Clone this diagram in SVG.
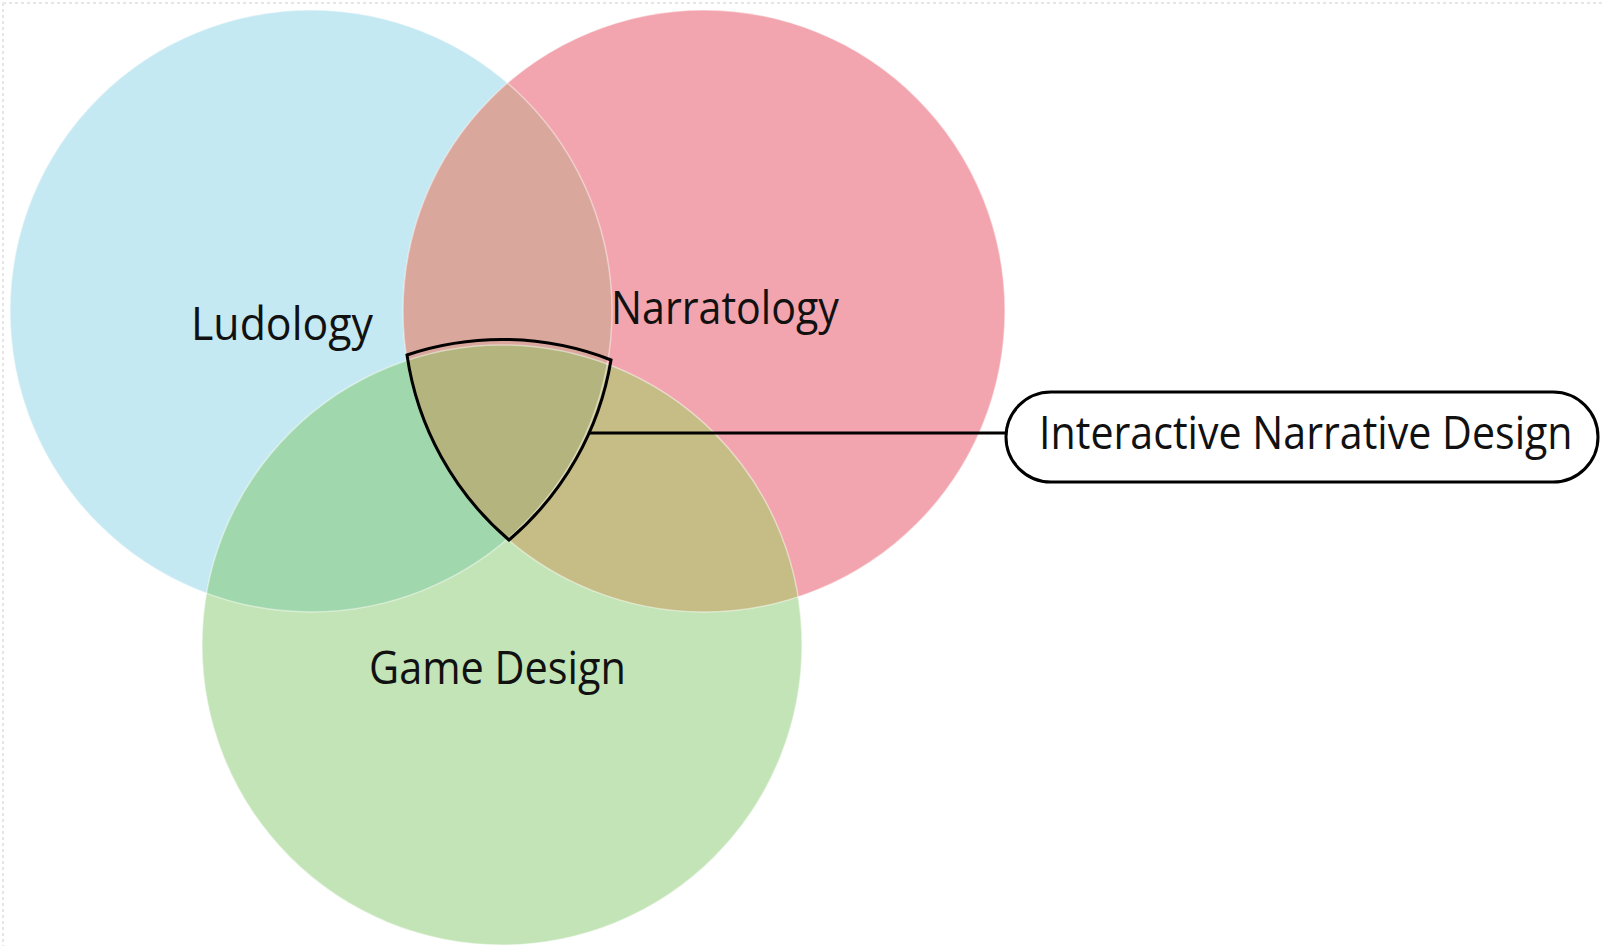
<svg xmlns="http://www.w3.org/2000/svg" width="1604" height="946" viewBox="0 0 1604 946">
<style>
.lbl{font-family:"Open Sans","Liberation Sans",sans-serif;font-size:45px;fill:#111;}
.edge{fill:none;stroke:#ffffff;stroke-opacity:0.45;stroke-width:1.5;}
</style>
<defs>
<clipPath id="cB"><circle cx="311" cy="311" r="301"/></clipPath>
<clipPath id="cP"><circle cx="704" cy="311" r="301"/></clipPath>
</defs>
<rect width="1604" height="946" fill="#ffffff"/>
<path d="M3 3H1604M3 3V946" fill="none" stroke="#e6e6e6" stroke-width="2" stroke-dasharray="3 3"/>
<g id="ludology">
<circle cx="311" cy="311" r="301" fill="#c5e9f2"/>
</g>
<g id="narratology">
<circle cx="704" cy="311" r="301" fill="#f2a5ae"/>
</g>
<g id="game-design">
<circle cx="502" cy="645" r="300" fill="#c3e4b6"/>
</g>
<g id="overlaps">
<circle cx="704" cy="311" r="301" fill="#d9a79c" clip-path="url(#cB)"/>
<circle cx="502" cy="645" r="300" fill="#a0d7ad" clip-path="url(#cB)"/>
<circle cx="502" cy="645" r="300" fill="#c6bc85" clip-path="url(#cP)"/>
<g clip-path="url(#cB)"><circle cx="502" cy="645" r="300" fill="#b4b47e" clip-path="url(#cP)"/></g>
<circle class="edge" cx="311" cy="311" r="301"/>
<circle class="edge" cx="704" cy="311" r="301"/>
<circle class="edge" cx="502" cy="645" r="300"/>
</g>
<g id="labels">
<text class="lbl" x="191" y="340" textLength="182" lengthAdjust="spacingAndGlyphs">Ludology</text>
<text class="lbl" x="611" y="324" textLength="228" lengthAdjust="spacingAndGlyphs">Narratology</text>
<text class="lbl" x="369" y="684" textLength="257" lengthAdjust="spacingAndGlyphs">Game Design</text>
</g>
<g id="intersection">
<path d="M407 355 A300 300 0 0 1 611 360 A300 300 0 0 1 509 540 A300 300 0 0 1 407 355 Z" fill="none" stroke="#000" stroke-width="3" stroke-linejoin="miter"/>
</g>
<g id="connectors">
<line x1="590" y1="433" x2="1006" y2="433" stroke="#000" stroke-width="3"/>
</g>
<g id="ind-label">
<rect x="1006" y="392" width="592" height="90" rx="45" ry="45" fill="#ffffff" stroke="#000" stroke-width="3"/>
<text class="lbl" transform="translate(1039 449) scale(0.8 1)" x="0" y="0" textLength="667" lengthAdjust="spacingAndGlyphs">Interactive Narrative Design</text>
</g>
</svg>
